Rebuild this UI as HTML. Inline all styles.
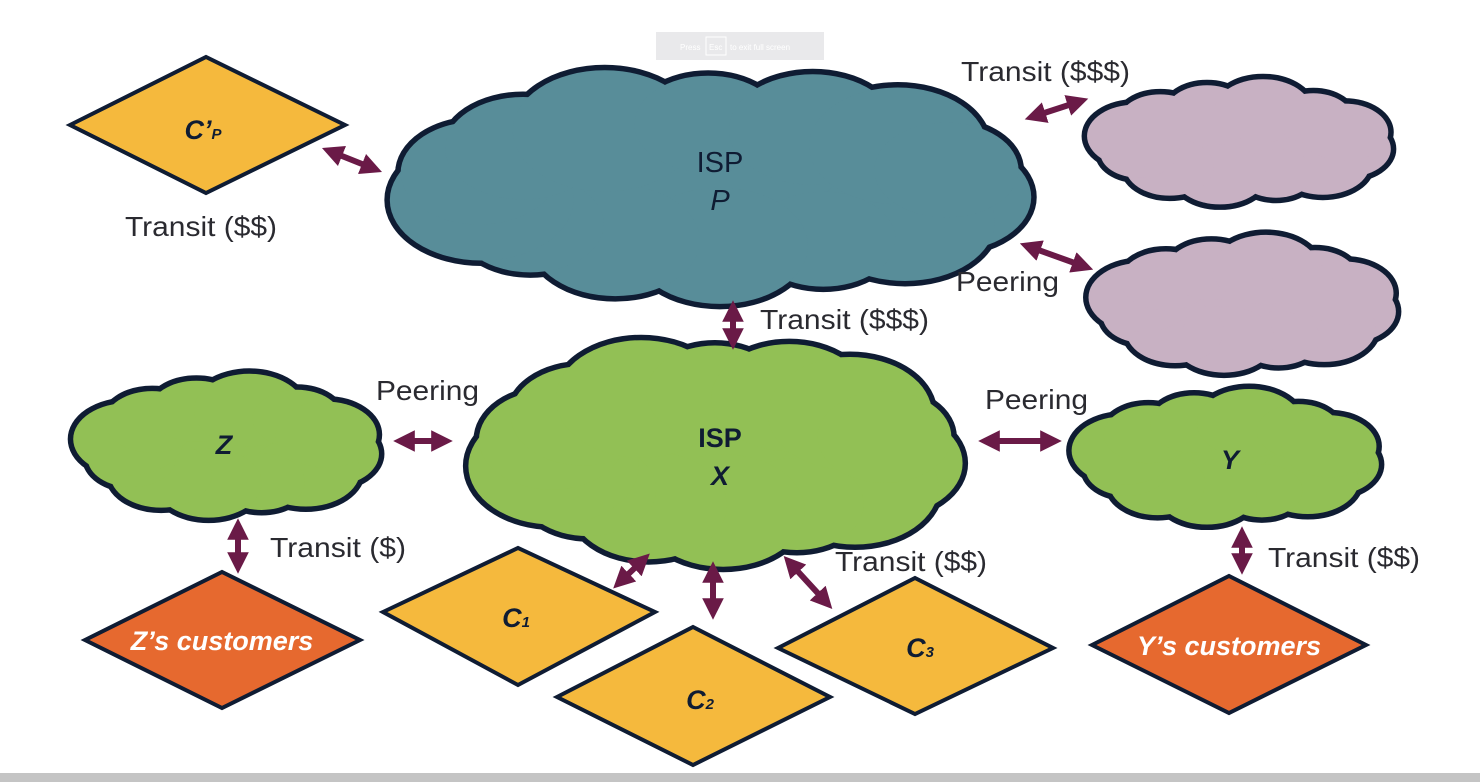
<!DOCTYPE html>
<html><head><meta charset="utf-8"><style>
html,body{margin:0;padding:0;background:#fff;width:1480px;height:782px;overflow:hidden}
svg{display:block}
.lbl{font-family:"Liberation Sans",sans-serif;font-size:28px;fill:#2a2a30}
.nd{font-family:"Liberation Sans",sans-serif;font-weight:bold;font-size:27px;fill:#0f1c33;text-anchor:middle}
</style></head><body>
<svg id="s" width="1480" height="782" viewBox="0 0 1480 782" xmlns="http://www.w3.org/2000/svg">
<defs>
<marker id="ah" viewBox="0 0 10 10" refX="5" refY="5" markerWidth="3.6" markerHeight="3.6" orient="auto-start-reverse" markerUnits="strokeWidth">
<path d="M0,0 L10,5 L0,10 z" fill="#6a1a47"/></marker>
</defs>
<rect x="0" y="773" width="1480" height="9" fill="#c4c4c4"/>
<rect x="656" y="32" width="168" height="28" fill="#e9e9eb"/>
<text x="680" y="50" font-family="Liberation Sans" font-size="8" fill="#fff">Press</text>
<rect x="706" y="37" width="20" height="18" fill="none" stroke="#fff" stroke-width="1"/>
<text x="709" y="50" font-family="Liberation Sans" font-size="8" fill="#fff">Esc</text>
<text x="730" y="50" font-family="Liberation Sans" font-size="8" fill="#fff">to exit full screen</text>
<g id="clouds"></g>
<g stroke="#0f1c33" stroke-width="4" stroke-linejoin="miter">
<polygon points="70,125 206,57 345,125 206,193" fill="#f5b93d"/>
<polygon points="85,640 222,572 360,640 222,708" fill="#e6692f"/>
<polygon points="1092,645 1229,576 1366,645 1229,713" fill="#e6692f"/>
<polygon points="383,612 518,548 655,612 518,685" fill="#f5b93d"/>
<polygon points="557,697 693,627 830,697 693,765" fill="#f5b93d"/>
<polygon points="778,648 915,578 1053,648 915,714" fill="#f5b93d"/>
</g>
<g id="arrows" stroke="#6a1a47" stroke-width="6" fill="none"></g>
<text class="lbl" x="125" y="236" textLength="152" lengthAdjust="spacingAndGlyphs">Transit ($$)</text>
<text class="lbl" x="961" y="81" textLength="169" lengthAdjust="spacingAndGlyphs">Transit ($$$)</text>
<text class="lbl" x="956" y="291" textLength="103" lengthAdjust="spacingAndGlyphs">Peering</text>
<text class="lbl" x="760" y="329" textLength="169" lengthAdjust="spacingAndGlyphs">Transit ($$$)</text>
<text class="lbl" x="376" y="400" textLength="103" lengthAdjust="spacingAndGlyphs">Peering</text>
<text class="lbl" x="985" y="409" textLength="103" lengthAdjust="spacingAndGlyphs">Peering</text>
<text class="lbl" x="270" y="557" textLength="136" lengthAdjust="spacingAndGlyphs">Transit ($)</text>
<text class="lbl" x="835" y="571" textLength="152" lengthAdjust="spacingAndGlyphs">Transit ($$)</text>
<text class="lbl" x="1268" y="567" textLength="152" lengthAdjust="spacingAndGlyphs">Transit ($$)</text>
<text class="nd" x="720" y="172" style="font-weight:normal;font-size:29px">ISP</text>
<text class="nd" x="720" y="210" font-style="italic" style="font-weight:normal;font-size:29px">P</text>
<text class="nd" x="720" y="447">ISP</text>
<text class="nd" x="720" y="485" font-style="italic">X</text>
<text class="nd" x="224" y="454" font-style="italic">Z</text>
<text class="nd" x="1230" y="469" font-style="italic">Y</text>
<text class="nd" x="203" y="139" font-style="italic">C’<tspan font-size="15">P</tspan></text>
<text class="nd" x="516" y="627" font-style="italic">C<tspan font-size="15">1</tspan></text>
<text class="nd" x="700" y="709" font-style="italic">C<tspan font-size="15">2</tspan></text>
<text class="nd" x="920" y="657" font-style="italic">C<tspan font-size="15">3</tspan></text>
<text class="nd" x="222" y="650" font-style="italic" style="fill:#fff;font-size:27px">Z’s customers</text>
<text class="nd" x="1229" y="655" font-style="italic" style="fill:#fff;font-size:27px">Y’s customers</text>
</svg>
<script>
var NS="http://www.w3.org/2000/svg";
function el(p,t,a){var e=document.createElementNS(NS,t);for(var k in a)e.setAttribute(k,a[k]);p.appendChild(e);return e;}
var cg=document.getElementById('clouds');
function cloud(x0,y0,x1,y1,fill,n){
 var w=x1-x0,h=y1-y0,cx=(x0+x1)/2,cy=(y0+y1)/2;
 var rb=h*0.24, rbx=Math.min(rb*1.5,w/ (n/2.2));
 var a=w/2-rbx, b=h/2-rb, list=[];
 for(var i=0;i<n;i++){var t=2*Math.PI*i/n+0.2;var s=1+0.12*Math.sin(i*2.3);
  list.push([cx+a*Math.cos(t),cy+b*Math.sin(t),rbx*s,rb*s]);}
 var g=el(cg,'g',{});
 list.forEach(function(e){el(g,'ellipse',{cx:e[0],cy:e[1],rx:e[2],ry:e[3],fill:fill,stroke:'#0f1c33','stroke-width':7});});
 el(g,'ellipse',{cx:cx,cy:cy,rx:a+2,ry:b+2,fill:fill});
 list.forEach(function(e){el(g,'ellipse',{cx:e[0],cy:e[1],rx:e[2]-2,ry:e[3]-2,fill:fill});});
}
cloud(390,68,1038,302,'#588d99',14);
cloud(1088,80,1395,205,'#c8b1c3',12);
cloud(1090,236,1400,373,'#c8b1c3',12);
cloud(470,338,968,565,'#92c055',14);
cloud(75,375,383,518,'#92c055',12);
cloud(1073,390,1383,525,'#92c055',12);
var ag=document.getElementById('arrows');
[[332,152,372,168],[1035,116,1078,102],[1030,247,1083,266],[733,311,733,339],[404,441,442,441],[989,441,1051,441],[238,529,238,563],[1242,537,1242,564],[621,581,642,561],[713,572,713,609],[791,564,825,601]].forEach(function(c){
 el(ag,'line',{x1:c[0],y1:c[1],x2:c[2],y2:c[3],'marker-start':'url(#ah)','marker-end':'url(#ah)'});});
</script>
</body></html>
